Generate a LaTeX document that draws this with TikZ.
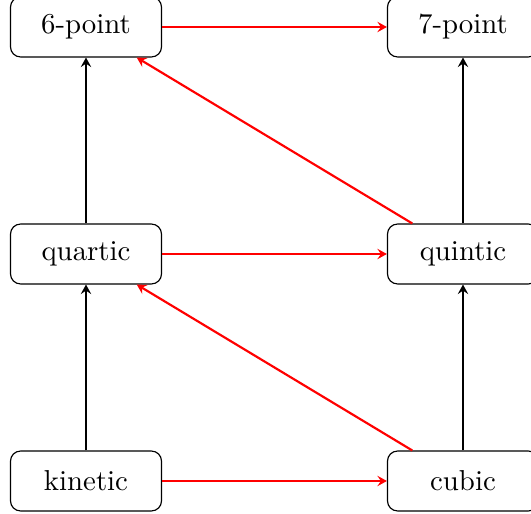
\documentclass[tikz,border=0pt]{standalone}
\usetikzlibrary{arrows.meta}
\begin{document}
\begin{tikzpicture}[x=0.347pt,y=-0.347pt,
  box/.style={draw,line width=0.4pt,rounded corners=3.5pt,minimum width=52.4pt,minimum height=20.8pt,inner sep=0pt,font=\fontsize{10}{12}\selectfont},
  blk/.style={line width=0.75pt,-{Stealth[length=3.3pt,width=3.6pt,inset=1.2pt]}},
  red/.style={blk,draw=red}]
\useasboundingbox (0,0) rectangle (531,514);
\node[box] (p6) at (86,27) {6-point};
\node[box] (p7) at (463,27) {7-point};
\node[box] (qa) at (86,254) {quartic};
\node[box] (qi) at (463,254) {quintic};
\node[box] (ki) at (86,481) {kinetic};
\node[box] (cu) at (463,481) {cubic};
\draw[blk] (ki) -- (qa);
\draw[blk] (qa) -- (p6);
\draw[blk] (cu) -- (qi);
\draw[blk] (qi) -- (p7);
\draw[red] (ki) -- (cu);
\draw[red] (qa) -- (qi);
\draw[red] (p6) -- (p7);
\draw[red] (cu) -- (qa);
\draw[red] (qi) -- (p6);
\end{tikzpicture}
\end{document}
